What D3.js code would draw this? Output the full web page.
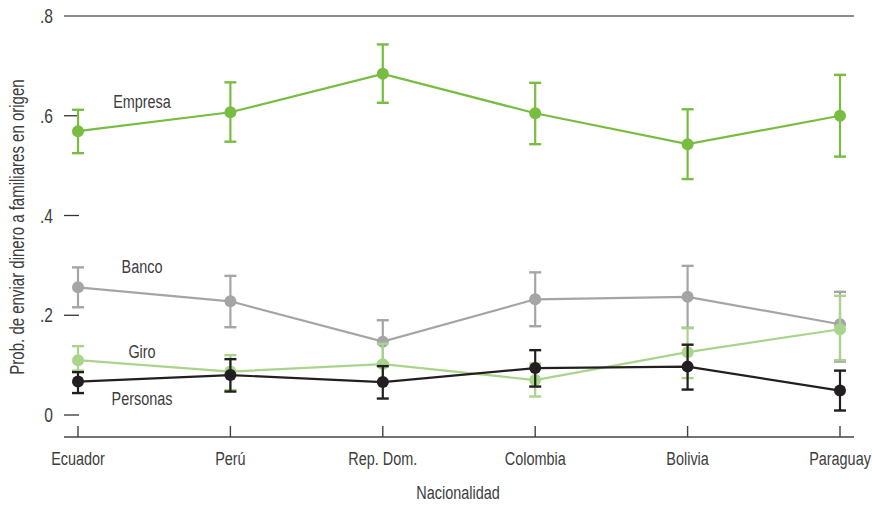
<!DOCTYPE html>
<html>
<head>
<meta charset="utf-8">
<script src="https://cdn.jsdelivr.net/npm/d3@7"></script>
<style>
  html, body { margin: 0; padding: 0; background: #fff; }
  svg text { font-family: "Liberation Sans", Arial, sans-serif; fill: #3d3d3d; }
</style>
</head>
<body>
<svg id="chart" width="872" height="506"></svg>
<script>
// ---- data ----
const categories = ["Ecuador", "Perú", "Rep. Dom.", "Colombia", "Bolivia", "Paraguay"];
const seriesNames = ["Empresa", "Banco", "Giro", "Personas"];
const yTicks = [0, 0.2, 0.4, 0.6, 0.8];
const yTickLabels = ["0", ".2", ".4", ".6", ".8"];

const empresaValues = [0.569, 0.607, 0.684, 0.605, 0.543, 0.600];
const empresaLow    = [0.525, 0.548, 0.626, 0.543, 0.473, 0.518];
const empresaHigh   = [0.612, 0.667, 0.743, 0.666, 0.613, 0.682];

const bancoValues = [0.256, 0.228, 0.147, 0.232, 0.237, 0.182];
const bancoLow    = [0.216, 0.176, 0.104, 0.178, 0.175, 0.107];
const bancoHigh   = [0.296, 0.279, 0.190, 0.286, 0.299, 0.247];

const giroValues = [0.110, 0.087, 0.102, 0.070, 0.126, 0.172];
const giroLow    = [0.089, 0.050, 0.064, 0.037, 0.074, 0.110];
const giroHigh   = [0.138, 0.120, 0.143, 0.103, 0.174, 0.239];

const personasValues = [0.067, 0.080, 0.066, 0.094, 0.097, 0.049];
const personasLow    = [0.044, 0.047, 0.033, 0.057, 0.051, 0.009];
const personasHigh   = [0.086, 0.112, 0.098, 0.130, 0.141, 0.089];

const seriesColors = ["#78bd41", "#a5a5a5", "#a8d58b", "#231f20"];

// ---- build ----
const series = [
  {name: "Empresa",  v: empresaValues,  lo: empresaLow,  hi: empresaHigh,  color: seriesColors[0]},
  {name: "Banco",    v: bancoValues,    lo: bancoLow,    hi: bancoHigh,    color: seriesColors[1]},
  {name: "Giro",     v: giroValues,     lo: giroLow,     hi: giroHigh,     color: seriesColors[2]},
  {name: "Personas", v: personasValues, lo: personasLow, hi: personasHigh, color: seriesColors[3]}
];

const svg = d3.select("#chart");
const x = d3.scalePoint().domain(categories).range([78, 840]);
const y = d3.scaleLinear().domain([0, 0.8]).range([415, 16]);

const axisLeft = 64, axisRight = 854, axisY = 437;

function addText(parent, tx, ty, str, size, sx, anchor, rotate) {
  const tr = `translate(${tx},${ty})` + (rotate ? ` rotate(${rotate})` : "") + ` scale(${sx},1)`;
  return parent.append("text")
    .attr("transform", tr)
    .attr("text-anchor", anchor)
    .style("font-size", size + "px")
    .text(str);
}

// top reference line at .8
svg.append("line")
  .attr("x1", axisLeft).attr("x2", axisRight)
  .attr("y1", y(0.8)).attr("y2", y(0.8))
  .attr("stroke", "#666").attr("stroke-width", 1.6);

// y ticks
const yAxis = svg.append("g");
yTicks.forEach((t, i) => {
  if (t < 0.8) {
    yAxis.append("line")
      .attr("x1", axisLeft).attr("x2", 79)
      .attr("y1", y(t)).attr("y2", y(t))
      .attr("stroke", "#333").attr("stroke-width", 1.3);
  }
  addText(yAxis, 53, y(t) + 7, yTickLabels[i], 20, 0.78, "end");
});

// x axis
const xAxisG = svg.append("g");
xAxisG.append("line")
  .attr("x1", axisLeft).attr("x2", axisRight)
  .attr("y1", axisY).attr("y2", axisY)
  .attr("stroke", "#444").attr("stroke-width", 1.4);
categories.forEach(c => {
  xAxisG.append("line")
    .attr("x1", x(c)).attr("x2", x(c))
    .attr("y1", axisY - 11).attr("y2", axisY)
    .attr("stroke", "#444").attr("stroke-width", 1.4);
  addText(xAxisG, x(c), 465, c, 19, 0.76, "middle");
});

// axis titles
addText(svg, 458, 499, "Nacionalidad", 19, 0.76, "middle");
addText(svg, 24, 227, "Prob. de enviar dinero a familiares en origen", 19.5, 0.77, "middle", -90);

// series
const line = d3.line().x(d => x(d.c)).y(d => y(d.v));
series.forEach(s => {
  const pts = categories.map((c, i) => ({c, v: s.v[i], lo: s.lo[i], hi: s.hi[i]}));
  const g = svg.append("g");
  pts.forEach(p => {
    g.append("line")
      .attr("x1", x(p.c)).attr("x2", x(p.c))
      .attr("y1", y(p.lo)).attr("y2", y(p.hi))
      .attr("stroke", s.color).attr("stroke-width", 2.2);
    [p.lo, p.hi].forEach(val => {
      g.append("line")
        .attr("x1", x(p.c) - 6).attr("x2", x(p.c) + 6)
        .attr("y1", y(val)).attr("y2", y(val))
        .attr("stroke", s.color).attr("stroke-width", 2.4);
    });
  });
  g.append("path")
    .datum(pts)
    .attr("d", line)
    .attr("fill", "none")
    .attr("stroke", s.color)
    .attr("stroke-width", 2.2);
  g.selectAll("circle").data(pts).join("circle")
    .attr("cx", d => x(d.c)).attr("cy", d => y(d.v))
    .attr("r", 6)
    .attr("fill", s.color);
});

// series labels
const labelY = {"Empresa": 0.629, "Banco": 0.297, "Giro": 0.127, "Personas": 0.034};
seriesNames.forEach(n => {
  addText(svg, 142, y(labelY[n]) + 6.5, n, 19, 0.76, "middle");
});
</script>
</body>
</html>
